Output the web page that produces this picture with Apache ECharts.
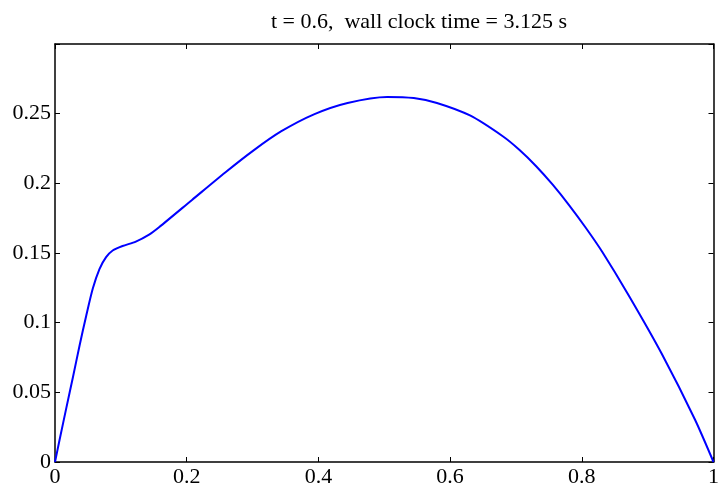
<!DOCTYPE html>
<html>
<head>
<meta charset="utf-8">
<script src="https://cdn.jsdelivr.net/npm/echarts@6/dist/echarts.min.js"></script>
<style>html,body{margin:0;padding:0;background:#fff}#c{width:722px;height:489px}</style>
</head>
<body>
<div id="c"></div>
<script>
const titleText = 't = 0.6,  wall clock time = 3.125 s';
const xValues = [0, 0.0072, 0.0173, 0.0273, 0.0374, 0.0475, 0.0574, 0.0675, 0.0776, 0.0876, 0.1026, 0.1228, 0.1429, 0.158, 0.2081, 0.2585, 0.3011, 0.3438, 0.3941, 0.4443, 0.5046, 0.5448, 0.58, 0.6302, 0.6805, 0.7055, 0.7307, 0.7558, 0.7809, 0.806, 0.8312, 0.8713, 0.9216, 0.9718, 1];
const yValues = [0, 0.0165, 0.039, 0.061, 0.0838, 0.1052, 0.1245, 0.1385, 0.147, 0.1518, 0.155, 0.1582, 0.1632, 0.1685, 0.1881, 0.2078, 0.2235, 0.2374, 0.2497, 0.2577, 0.262, 0.2612, 0.2577, 0.2487, 0.2336, 0.2239, 0.2123, 0.199, 0.1842, 0.1681, 0.1507, 0.1195, 0.0775, 0.0305, 0];
const xTicks = [0, 0.2, 0.4, 0.6, 0.8, 1];
const yTicks = [0, 0.05, 0.1, 0.15, 0.2, 0.25];

const font = 'Liberation Serif';
const data = xValues.map((x, i) => [x, yValues[i]]);
const lineStyle = { color: '#000', width: 1.5 };
const tickStyle = { show: true, inside: true, length: 5, lineStyle: { color: '#000', width: 1 } };

const chart = echarts.init(document.getElementById('c'));
chart.setOption({
  animation: false,
  title: {
    text: titleText, left: 414, textAlign: 'center', top: 6,
    textStyle: { fontFamily: font, fontSize: 22, fontWeight: 'normal', color: '#000' }
  },
  grid: { left: 55, right: 4, top: 44, bottom: 27 },
  xAxis: [
    { type: 'value', min: 0, max: 1, interval: 0.2, position: 'bottom',
      axisLine: { show: true, onZero: false, lineStyle }, axisTick: tickStyle, splitLine: { show: false },
      axisLabel: { fontFamily: font, fontSize: 22, color: '#000', margin: 4,
        formatter: v => xTicks.some(t => Math.abs(t - v) < 1e-9) ? String(+v.toFixed(2)) : '' } },
    { type: 'value', min: 0, max: 1, interval: 0.2, position: 'top',
      axisLine: { show: true, onZero: false, lineStyle }, axisTick: tickStyle, splitLine: { show: false },
      axisLabel: { show: false } }
  ],
  yAxis: [
    { type: 'value', min: 0, max: 0.3, interval: 0.05, position: 'left',
      axisLine: { show: true, onZero: false, lineStyle }, axisTick: tickStyle, splitLine: { show: false },
      axisLabel: { fontFamily: font, fontSize: 22, color: '#000', margin: 4,
        formatter: v => yTicks.some(t => Math.abs(t - v) < 1e-9) ? String(+v.toFixed(2)) : '' } },
    { type: 'value', min: 0, max: 0.3, interval: 0.05, position: 'right',
      axisLine: { show: true, onZero: false, lineStyle }, axisTick: tickStyle, splitLine: { show: false },
      axisLabel: { show: false } }
  ],
  series: [{
    type: 'line', data: data, smooth: 0.25, showSymbol: false,
    lineStyle: { color: '#0000ff', width: 2 }
  }]
});
</script>
</body>
</html>
